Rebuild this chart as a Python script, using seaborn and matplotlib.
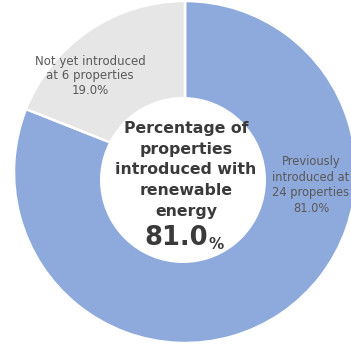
import matplotlib
matplotlib.use("Agg")
import matplotlib.pyplot as plt
from matplotlib.patches import Circle
import seaborn as sns

# Renewable-energy adoption across the portfolio
categories = ["Previously introduced", "Not yet introduced"]
property_counts = [24, 6]
shares = [81.0, 19.0]
headline = "Percentage of\nproperties\nintroduced with\nrenewable\nenergy"

sns.set_style("white")
plt.rcParams["font.family"] = ["DejaVu Sans"]

colors = ["#8EA9DB", "#E7E6E6"]
label_color = "#595959"
center_color = "#3A3A3A"

W, H = 351, 344
fig = plt.figure(figsize=(W / 100, H / 100), dpi=100)
ax = fig.add_axes([0, 0, 1, 1])

# outer ring, starting at 12 o'clock and running clockwise
ax.pie(shares, colors=colors, startangle=90, counterclock=False,
       center=(185, H - 172), radius=171, frame=True,
       wedgeprops=dict(edgecolor="white", linewidth=1.8))
ax.set_xlim(0, W)
ax.set_ylim(0, H)
ax.set_aspect("equal")
ax.axis("off")

# doughnut hole
ax.add_patch(Circle((183, H - 180), 83, facecolor="white", edgecolor="none", zorder=5))

# slice labels
ax.text(90, H - 76, f"{categories[1]}\nat {property_counts[1]} properties\n{shares[1]:.1f}%",
        ha="center", va="center", fontsize=8.5, color=label_color,
        linespacing=1.14, zorder=6)
ax.text(311, H - 185,
        "Previously\nintroduced at\n" + f"{property_counts[0]} properties\n{shares[0]:.1f}%",
        ha="center", va="center", fontsize=8.3, color=label_color,
        linespacing=1.26, zorder=6)

# centre headline
ax.text(186, H - 170, headline, ha="center", va="center", fontsize=11.3,
        fontweight="bold", color=center_color, linespacing=1.47, zorder=6)
big = ax.text(176, H - 238, f"{shares[0]:.1f}", ha="center", va="center",
              fontsize=18.5, fontweight="bold", color=center_color, zorder=6)
fig.canvas.draw()
bb = big.get_window_extent().transformed(ax.transData.inverted())
ax.text(bb.x1 + 1, bb.y0 + 2, "%", ha="left", va="baseline", fontsize=11,
        fontweight="bold", color=center_color, zorder=6)

fig.savefig("out.png", dpi=100)
